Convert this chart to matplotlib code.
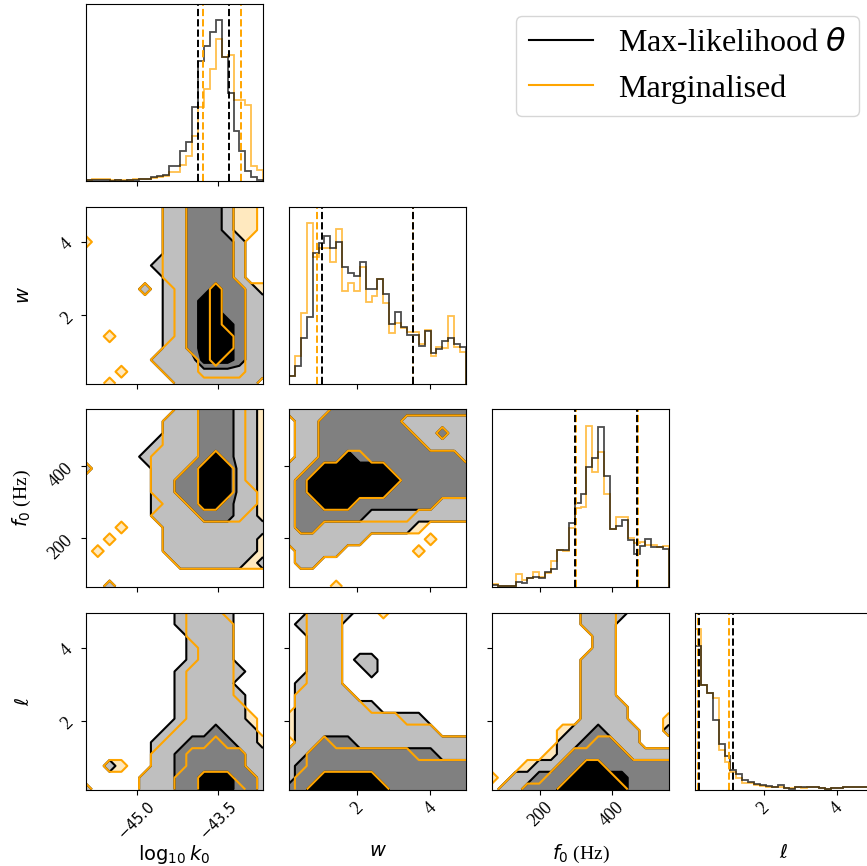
import numpy as np
import matplotlib
matplotlib.use("Agg")
import matplotlib.pyplot as plt
from matplotlib.lines import Line2D

plt.rcParams["font.family"] = ["Liberation Serif", "DejaVu Serif"]
plt.rcParams["mathtext.fontset"] = "dejavusans"

ML = "black"      # max-likelihood theta
MG = "orange"     # marginalised
ML_FILLS = ["#bfbfbf", "#808080", "black"]
MG_FILLS = ["#ffe9bf", "#ffd280", "orange"]

# parameters: log10 k0, w, f0, ell
LABELS = [r"$\log_{10} k_0$", r"$w$", r"$f_0$ (Hz)", r"$\ell$"]
RANGES = [(-45.93, -42.68), (0.14, 4.98), (67, 557), (0.12, 4.97)]
TICKS = [[-45.0, -43.5], [2, 4], [200, 400], [2, 4]]
TICKLABELS = [[r"$-45.0$", r"$-43.5$"], ["2", "4"], ["200", "400"], ["2", "4"]]
TICKSIZE = [10.5, 13, 13, 13]

# 1D marginal histograms (30 bins over each range)
HIST_K0_ML = [3, 2, 2, 2, 0, 2, 0, 1, 3, 4, 5, 10, 13, 18, 43, 45, 88, 115,
              221, 360, 405, 448, 485, 373, 263, 150, 88, 28, 10, 3]
HIST_K0_MG = [3, 4, 5, 6, 3, 2, 3, 2, 4, 6, 5, 8, 10, 15, 25, 25, 48, 73,
              135, 223, 275, 335, 428, 373, 378, 243, 243, 228, 45, 33]
HIST_W_ML = [22, 53, 135, 200, 392, 422, 442, 405, 423, 348, 332, 323, 365,
             282, 282, 313, 268, 177, 213, 170, 145, 145, 113, 158, 90, 103,
             127, 135, 118, 110]
HIST_W_MG = [22, 82, 210, 482, 380, 405, 405, 365, 462, 278, 300, 277, 350,
             245, 263, 313, 240, 152, 180, 165, 153, 153, 118, 160, 82, 108,
             105, 203, 110, 95]
HIST_F0_ML = [5, 2, 3, 3, 13, 10, 25, 30, 25, 45, 53, 109, 111, 190, 250, 277,
              360, 385, 480, 333, 172, 182, 200, 140, 97, 123, 142, 120, 120,
              113]
HIST_F0_MG = [7, 2, 3, 3, 37, 20, 27, 45, 30, 42, 78, 109, 108, 175, 237, 240,
              483, 343, 405, 278, 172, 210, 210, 147, 130, 135, 125, 125, 118,
              123]
HIST_L_ML = [432, 315, 290, 210, 137, 102, 60, 48, 28, 23, 17, 13, 12, 9, 13,
             5, 3, 9, 8, 8, 9, 5, 3, 4, 6, 7, 8, 8, 8, 8]
HIST_L_MG = [485, 315, 290, 275, 120, 82, 53, 35, 19, 19, 15, 12, 9, 8, 9, 6,
             4, 8, 6, 7, 7, 5, 3, 5, 6, 8, 9, 9, 8, 8]

# 16th / 84th percentile markers
Q_ML = [[-43.87, -43.30], [1.05, 3.53], [298, 468], [0.23, 1.17]]
Q_MG = [[-43.79, -43.08], [0.90, 3.52], [300, 470], [0.20, 1.05]]

# 2D credible-region level maps on a 16x16 node grid
# (top row first; 0 = outside, 1..3 = outer..inner contour)
K0_W_ML = ["0000000112221000", "0000000112221000", "0000000112221000",
           "0000000112222100", "0000000112222100", "0000001112222100",
           "0000000112222100", "0000010112232210", "0000000112332211",
           "0000000112332211", "0000000112333211", "0000000112333211",
           "0000000112333211", "0000001111333211", "0000000111111111",
           "0000000011111110"]
K0_W_MG = ["0000000112222110", "0000000112222110", "0000000112222110",
           "1000000112222100", "0000000112222100", "0000000112222100",
           "0000000112222100", "0000010012232211", "0000000012232211",
           "0000000012232211", "0000000012232211", "0010000012233211",
           "0000000112233211", "0000001111232211", "0001000111222211",
           "0010000011111110"]
K0_F0_ML = ["0000000011222110", "0000000111222110", "0000000111222110",
            "0000001111222110", "0000011111232110", "1000001112333110",
            "0000001122333110", "0000001122333110", "0000001112332110",
            "0000001111222110", "0000000111111111", "0000000111111110",
            "0000000111111110", "0000000011111101", "0000000000000000",
            "0010000000000000"]
K0_F0_MG = ["0000000011222211", "0000000111222211", "0000000111222211",
            "0000000111222211", "0000001111232211", "1000001112333211",
            "0000001122333211", "0000001122333221", "0000000112332221",
            "0000001111222211", "0001000111111111", "0010000111111111",
            "0100000111111111", "0000000011111111", "0000000000000000",
            "0010000000000000"]
W_F0_ML = ["1111222222222222", "0112222222111111", "0112222222211211",
           "0112222222221111", "0112232222222221", "1123333332222222",
           "1233333333222222", "1233333332222222", "1223332222222111",
           "1222222111111111", "1221111111100000", "1111111000000000",
           "0111100000000000", "0110000000000000", "0000000000000000",
           "0000000000000000"]
W_F0_MG = ["1111222222222222", "0112222222111111", "0112222222211211",
           "0112222222221111", "0112233222222221", "1123333332222222",
           "1233333333222222", "1233333332222222", "1223332222222111",
           "1222222222211111", "1221111111110000", "1111111000001000",
           "0111100000010000", "0110000000000000", "0000000000000000",
           "0000100000000000"]
K0_L_ML = ["0000000011111000", "0000000011111000", "0000000001111000",
           "0000000001111000", "0000000001111000", "0000000011111100",
           "0000000011111000", "0000000011111100", "0000000011111100",
           "0000000011111100", "0000000111121110", "0000001112222110",
           "0000001122222211", "0010001122222211", "0000011122333221",
           "1000011122333221"]
K0_L_MG = ["0000000001110000", "0000000001111000", "0000000001111000",
           "0000000000111000", "0000000000111000", "0000000001111000",
           "0000000001111000", "0000000001111000", "0000000001111100",
           "0000000001111110", "0000000011111110", "0000000111121111",
           "0000001112222211", "0011001112222211", "0000011122333221",
           "1000011122333321"]
W_L_ML = ["0011110000000000", "0111100000000000", "0011100000000000",
          "0011100000000000", "0011101100000000", "0011100100000000",
          "0111100000000000", "0111110000000000", "0111111100000000",
          "0111111111110000", "0111111111111000", "0112221111111111",
          "1122222222222111", "1222222222222222", "1223333322222222",
          "2233333332222222"]
W_L_MG = ["0011100010000000", "0011100000000000", "0011100000000000",
          "0011100000000000", "0011100000000000", "0011100000000000",
          "0011100000000000", "0111110000000000", "0111111000000000",
          "1111111111000000", "1111111111111000", "0112111111111111",
          "1122222222211111", "1122222222222222", "1223333322222222",
          "1233333332222222"]
F0_L_ML = ["0000000011110000", "0000000011100000", "0000000001100000",
           "0000000001100000", "0000000011100000", "0000000011100000",
           "0000000011100000", "0000000011100000", "0000000011110000",
           "0000000011110000", "0000000112111001", "0000001122211000",
           "0000001222221111", "0000112233222222", "0011222333332222",
           "0112223333332222"]
F0_L_MG = ["0000000011100000", "0000000011100000", "0000000001100000",
           "0000000001100000", "0000000011100000", "0000000011100000",
           "0000000011100000", "0000000011100000", "0000000011110000",
           "0000000011110001", "0000001111111001", "0000001112211000",
           "0000011222221111", "0001112233222222", "1011122333322222",
           "0112223333332222"]

HISTS = [(HIST_K0_ML, HIST_K0_MG), (HIST_W_ML, HIST_W_MG),
         (HIST_F0_ML, HIST_F0_MG), (HIST_L_ML, HIST_L_MG)]
GRIDS = {(1, 0): (K0_W_ML, K0_W_MG), (2, 0): (K0_F0_ML, K0_F0_MG),
         (2, 1): (W_F0_ML, W_F0_MG), (3, 0): (K0_L_ML, K0_L_MG),
         (3, 1): (W_L_ML, W_L_MG), (3, 2): (F0_L_ML, F0_L_MG)}

FIG_W, FIG_H = 867, 866
X0, Y0, PITCH, SIZE = 86, 3.5, 203, 177
LEVELS = [0.5, 1.5, 2.5, 3.5]

fig = plt.figure(figsize=(FIG_W / 100, FIG_H / 100), dpi=100)


def panel(row, col):
    left = (X0 + col * PITCH) / FIG_W
    bottom = 1 - (Y0 + row * PITCH + SIZE) / FIG_H
    return fig.add_axes([left, bottom, SIZE / FIG_W, SIZE / FIG_H])


def level_map(rows):
    return np.array([[int(c) for c in r] for r in rows], dtype=float)[::-1]


n = len(LABELS)
for row in range(n):
    for col in range(row + 1):
        ax = panel(row, col)
        xr = RANGES[col]
        if row == col:
            ml, mg = HISTS[col]
            edges = np.linspace(xr[0], xr[1], len(ml) + 1)
            ax.stairs(mg, edges, color=MG, alpha=0.7, lw=1.3)
            ax.stairs(ml, edges, color=ML, alpha=0.7, lw=1.3)
            for q in Q_MG[col]:
                ax.axvline(q, color=MG, ls="--", lw=1.4)
            for q in Q_ML[col]:
                ax.axvline(q, color=ML, ls="--", lw=1.4)
            ax.set_ylim(0, 1.1 * max(max(ml), max(mg)))
            ax.set_yticks([])
        else:
            yr = RANGES[row]
            ml, mg = GRIDS[(row, col)]
            zml, zmg = level_map(ml), level_map(mg)
            x = np.linspace(xr[0], xr[1], zml.shape[1])
            y = np.linspace(yr[0], yr[1], zml.shape[0])
            ax.contourf(x, y, zmg, levels=LEVELS, colors=MG_FILLS)
            ax.contourf(x, y, zml, levels=LEVELS, colors=ML_FILLS)
            ax.contour(x, y, zml, levels=LEVELS[:3], colors=ML, linewidths=1.5)
            ax.contour(x, y, zmg, levels=LEVELS[:3], colors=MG, linewidths=1.5)
            ax.set_ylim(*yr)
            ax.set_yticks(TICKS[row])
            if col == 0:
                ax.set_yticklabels(TICKLABELS[row], rotation=45,
                                   fontsize=TICKSIZE[row])
                ax.set_ylabel(LABELS[row], fontsize=14)
                ax.yaxis.set_label_coords(-0.3, 0.5)
            else:
                ax.set_yticklabels([])
        ax.set_xlim(*xr)
        ax.set_xticks(TICKS[col])
        if row == n - 1:
            ax.set_xticklabels(TICKLABELS[col], rotation=45,
                               fontsize=TICKSIZE[col])
            ax.set_xlabel(LABELS[col], fontsize=14)
            ax.xaxis.set_label_coords(0.5, -0.3)
        else:
            ax.set_xticklabels([])

handles = [Line2D([], [], color=ML, lw=1.5), Line2D([], [], color=MG, lw=1.5)]
fig.legend(handles, [r"Max-likelihood $\theta$", "Marginalised"],
           loc="upper right", bbox_to_anchor=(859 / FIG_W, 1 - 16 / FIG_H),
           borderaxespad=0, fontsize=23)

fig.savefig("out.png", dpi=100)
